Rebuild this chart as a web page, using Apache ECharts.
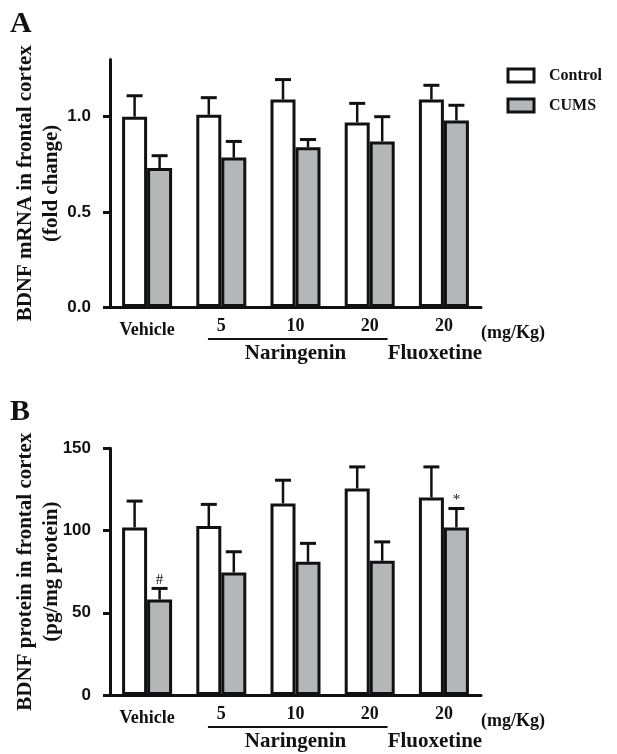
<!DOCTYPE html>
<html>
<head>
<meta charset="utf-8">
<script src="https://cdn.jsdelivr.net/npm/echarts@6/dist/echarts.min.js"></script>
<style>
  html, body { margin: 0; padding: 0; background: #fff; }
  #chart { width: 617px; height: 754px; }
</style>
</head>
<body>
<div id="chart"></div>
<script>
// ---- data ----
const categories = ['Vehicle', '5', '10', '20', '20'];
const groupLabels = ['', '', 'Naringenin', '', 'Fluoxetine'];
const unitLabel = '(mg/Kg)';
const seriesNames = ['Control', 'CUMS'];

const mrnaControl = [1.00, 1.01, 1.09, 0.97, 1.09];
const mrnaControlErr = [0.11, 0.09, 0.105, 0.10, 0.075];
const mrnaCums = [0.73, 0.785, 0.84, 0.87, 0.98];
const mrnaCumsErr = [0.065, 0.085, 0.04, 0.13, 0.08];

const proteinControl = [101.9, 102.7, 116.5, 125.6, 120.1];
const proteinControlErr = [16, 13.2, 14.1, 13.1, 18.6];
const proteinCums = [58.1, 74.5, 81.0, 81.6, 101.9];
const proteinCumsErr = [6.7, 12.6, 11.2, 11.5, 11.5];
const proteinCumsMarks = ['#', '', '', '', '*'];

const mrnaTicks = [0, 0.5, 1.0];
const proteinTicks = [0, 50, 100, 150];

// ---- style ----
const SERIF = "'Liberation Serif', 'Times New Roman', serif";
const SANS = "'Liberation Sans', Arial, sans-serif";
const INK = '#111';
const GRAY = '#b5b6b9';
const BAR_W = 25;

const chart = echarts.init(document.getElementById('chart'), null, { renderer: 'canvas' });

function catLabel(value, idx) {
  let s = idx === 0 ? '{v|' + value + '}' : '{n|' + value + '}';
  const g = groupLabels[idx];
  if (g) s += '\n{' + (g === 'Fluoxetine' ? 'f' : 'g') + '|' + g + '}';
  return s;
}
const catRich = {
  v: { fontFamily: SERIF, fontWeight: 'bold', fontSize: 18, lineHeight: 18, color: INK, padding: [8, 0, 0, 0] },
  n: { fontFamily: SERIF, fontWeight: 'bold', fontSize: 18, lineHeight: 18, color: INK },
  g: { fontFamily: SERIF, fontWeight: 'bold', fontSize: 21, lineHeight: 21, color: INK, padding: [16, 0, 0, 0] },
  f: { fontFamily: SERIF, fontWeight: 'bold', fontSize: 21, lineHeight: 21, color: INK, padding: [16, 18, 0, 0] }
};

function xAxisFor(gridIndex) {
  return {
    type: 'category', gridIndex: gridIndex, data: categories,
    axisLine: { lineStyle: { color: INK, width: 3 } },
    axisTick: { show: false },
    axisLabel: { interval: 0, margin: 10, formatter: catLabel, rich: catRich },
    name: unitLabel, nameLocation: 'end', nameGap: 0, nameMoveOverlap: false,
    nameTextStyle: { fontFamily: SERIF, fontWeight: 'bold', fontSize: 18, lineHeight: 18, color: INK,
      align: 'left', verticalAlign: 'top', padding: [17, 0, 0, 0] }
  };
}
function yAxisFor(gridIndex, max, ticks, name, fmt) {
  return {
    type: 'value', gridIndex: gridIndex, min: 0, max: max,
    name: name, nameLocation: 'middle', nameRotate: 90, nameGap: 45, nameMoveOverlap: false,
    nameTextStyle: { fontFamily: SERIF, fontWeight: 'bold', fontSize: 21, lineHeight: 26, color: INK },
    axisLine: { show: true, lineStyle: { color: INK, width: 3 } },
    axisTick: { show: true, length: 7, lineStyle: { color: INK, width: 3 }, customValues: ticks },
    axisLabel: { margin: 19, customValues: ticks, formatter: fmt,
      fontFamily: SANS, fontWeight: 'bold', fontSize: 17, color: INK },
    splitLine: { show: false }
  };
}

function barSeries(name, values, axisIdx, color) {
  return {
    type: 'bar', name: name, xAxisIndex: axisIdx, yAxisIndex: axisIdx,
    data: values, barWidth: BAR_W, barGap: '0%',
    itemStyle: { color: color, borderColor: INK, borderWidth: 3 }
  };
}
function errSeries(name, values, errs, marks, axisIdx, side) {
  return {
    type: 'custom', name: name + ' err', xAxisIndex: axisIdx, yAxisIndex: axisIdx, z: 3,
    data: values.map(function (v, i) { return [i, v, errs[i]]; }),
    encode: { x: 0, y: [1, 2] },
    renderItem: function (params, api) {
      const base = api.coord([api.value(0), api.value(1)]);
      const tip = api.coord([api.value(0), api.value(1) + api.value(2)]);
      const cx = base[0] + side * BAR_W / 2;
      const children = [
        { type: 'line', shape: { x1: cx, y1: base[1], x2: cx, y2: tip[1] }, style: { stroke: INK, lineWidth: 2.5 } },
        { type: 'line', shape: { x1: cx - 8, y1: tip[1], x2: cx + 8, y2: tip[1] }, style: { stroke: INK, lineWidth: 3 } }
      ];
      const m = marks && marks[params.dataIndex];
      if (m) {
        children.push({ type: 'text', style: { text: m, x: cx, y: tip[1] - 1, align: 'center', verticalAlign: 'bottom',
          font: '15px ' + SERIF, fill: INK } });
      }
      return { type: 'group', children: children };
    }
  };
}

chart.setOption({
  animation: false,
  backgroundColor: '#fff',
  title: [
    { text: 'A', left: 5, top: 4, padding: 5, textStyle: { fontFamily: SERIF, fontWeight: 'bold', fontSize: 30, color: INK } },
    { text: 'B', left: 5, top: 392, padding: 5, textStyle: { fontFamily: SERIF, fontWeight: 'bold', fontSize: 30, color: INK } }
  ],
  legend: {
    data: seriesNames, orient: 'vertical', left: 501.5, top: 62.5,
    icon: 'rect', itemWidth: 26, itemHeight: 13, itemGap: 14,
    itemStyle: { borderColor: INK, borderWidth: 3 },
    textStyle: { fontFamily: SERIF, fontWeight: 'bold', fontSize: 16, color: INK, padding: [0, 0, 0, 10] }
  },
  grid: [
    { left: 110, width: 371, top: 59.6, height: 247.4 },
    { left: 110, width: 371, top: 448.3, height: 246.7 }
  ],
  xAxis: [xAxisFor(0), xAxisFor(1)],
  yAxis: [
    yAxisFor(0, 1.3, mrnaTicks, 'BDNF mRNA in frontal cortex\n(fold change)', function (v) { return v.toFixed(1); }),
    yAxisFor(1, 150, proteinTicks, 'BDNF protein in frontal cortex\n(pg/mg protein)', function (v) { return String(v); })
  ],
  series: [
    barSeries('Control', mrnaControl, 0, '#ffffff'),
    barSeries('CUMS', mrnaCums, 0, GRAY),
    barSeries('Control', proteinControl, 1, '#ffffff'),
    barSeries('CUMS', proteinCums, 1, GRAY),
    errSeries('Control', mrnaControl, mrnaControlErr, null, 0, -1),
    errSeries('CUMS', mrnaCums, mrnaCumsErr, null, 0, 1),
    errSeries('Control', proteinControl, proteinControlErr, null, 1, -1),
    errSeries('CUMS', proteinCums, proteinCumsErr, proteinCumsMarks, 1, 1)
  ]
});

// underline spanning the Naringenin dose group, placed from the axes
function groupLine(gridIndex) {
  const first = groupLabels.indexOf('Naringenin') - 1;
  const last = groupLabels.indexOf('Naringenin') + 1;
  const p1 = chart.convertToPixel({ gridIndex: gridIndex }, [first, 0]);
  const p2 = chart.convertToPixel({ gridIndex: gridIndex }, [last, 0]);
  const band = p2[0] - p1[0];
  return {
    type: 'line', silent: true,
    shape: { x1: p1[0] - band * 0.09, y1: p1[1] + 32, x2: p2[0] + band * 0.12, y2: p1[1] + 32 },
    style: { stroke: INK, lineWidth: 2 }
  };
}
chart.setOption({ graphic: [groupLine(0), groupLine(1)] });
</script>
</body>
</html>
